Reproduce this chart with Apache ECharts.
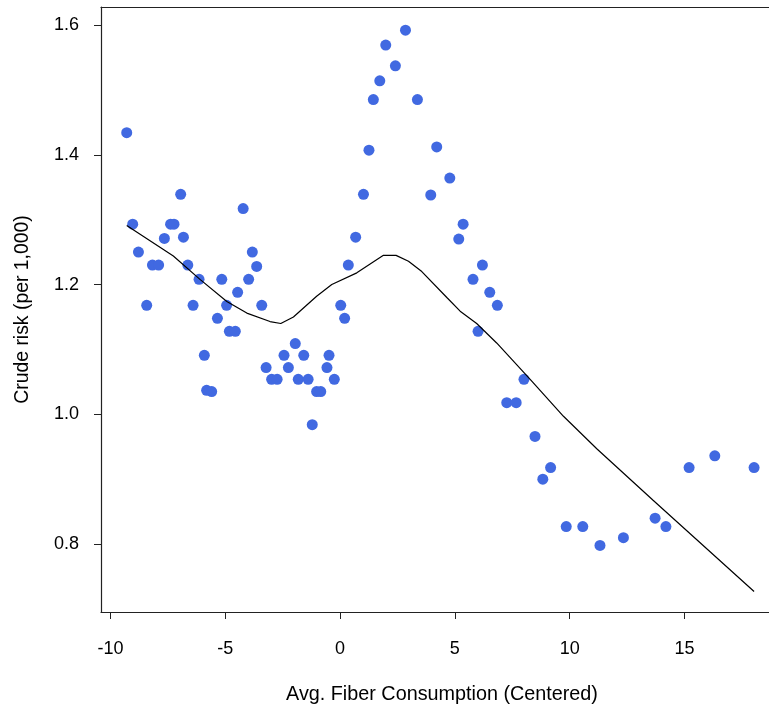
<!DOCTYPE html>
<html>
<head>
<meta charset="utf-8">
<script src="https://cdn.jsdelivr.net/npm/echarts@6/dist/echarts.min.js"></script>
<style>
html,body{margin:0;padding:0;background:#fff;}
#chart{width:769px;height:710px;}
</style>
</head>
<body>
<div id="chart"></div>
<script>
// Scatter points: fiber (centered) and crude risk (per 1,000)
const pointX = [
  -9.29, -9.03, -8.78, -8.42, -8.17, -7.90, -7.65, -7.38, -7.23, -6.94,
  -6.82, -6.63, -6.40, -6.14, -5.91, -5.81, -5.59, -5.34, -5.15, -4.94,
  -4.82, -4.56, -4.46, -4.22, -3.98, -3.82, -3.63, -3.41, -3.22, -2.98,
  -2.74, -2.44, -2.25, -1.95, -1.82, -1.58, -1.39, -1.21, -1.02, -0.84,
  -0.57, -0.48, -0.25, 0.03, 0.20, 0.36, 0.68, 1.02, 1.26, 1.45,
  1.73, 1.99, 2.41, 2.85, 3.37, 3.95, 4.21, 4.78, 5.17, 5.36,
  5.79, 6.01, 6.20, 6.52, 6.85, 7.26, 7.67, 8.01, 8.49, 8.83,
  9.17, 9.85, 10.57, 11.32, 12.34, 13.72, 14.19, 15.20, 16.32, 18.03
];
const pointY = [
  1.434, 1.293, 1.250, 1.168, 1.230, 1.230, 1.271, 1.293, 1.293, 1.339,
  1.273, 1.230, 1.168, 1.208, 1.091, 1.037, 1.035, 1.148, 1.208, 1.168,
  1.128, 1.128, 1.188, 1.317, 1.208, 1.250, 1.228, 1.168, 1.072, 1.054,
  1.054, 1.091, 1.072, 1.109, 1.054, 1.091, 1.054, 0.984, 1.035, 1.035,
  1.072, 1.091, 1.054, 1.168, 1.148, 1.230, 1.273, 1.339, 1.407, 1.485,
  1.514, 1.569, 1.537, 1.592, 1.485, 1.338, 1.412, 1.364, 1.270, 1.293,
  1.208, 1.128, 1.230, 1.188, 1.168, 1.018, 1.018, 1.054, 0.966, 0.900,
  0.918, 0.827, 0.827, 0.798, 0.810, 0.840, 0.827, 0.918, 0.936, 0.918
];
// Smoothed trend line
const lineX = [-9.29, -7.26, -6.10, -4.93, -4.06, -3.05, -2.58, -2.03, -1.02, -0.36, 0.73, 1.89, 2.44, 2.98, 3.56, 4.65, 5.23, 5.95, 6.82, 8.28, 9.73, 11.18, 13.62, 15.5, 18.03];
const lineY = [1.291, 1.244, 1.208, 1.174, 1.156, 1.143, 1.140, 1.150, 1.182, 1.200, 1.218, 1.245, 1.245, 1.236, 1.220, 1.180, 1.159, 1.140, 1.110, 1.054, 0.997, 0.947, 0.868, 0.808, 0.727];
const xTicks = [-10, -5, 0, 5, 10, 15];
const yTicks = [0.8, 1.0, 1.2, 1.4, 1.6];
const xTitle = 'Avg. Fiber Consumption (Centered)';
const yTitle = 'Crude risk (per 1,000)';

const scatterData = pointX.map((x, i) => [x, pointY[i]]);
const lineData = lineX.map((x, i) => [x, lineY[i]]);
const FONT = 'Liberation Sans, Arial, Helvetica, sans-serif';
const AXIS_COLOR = '#222';

const chart = echarts.init(document.getElementById('chart'), null, {renderer: 'canvas'});
chart.setOption({
  animation: false,
  backgroundColor: '#ffffff',
  grid: {left: 101, top: 7, width: 668, height: 606, show: false},
  xAxis: [{
    type: 'value', min: -10.41, max: 18.68, position: 'bottom',
    splitLine: {show: false},
    axisLine: {show: true, onZero: false, lineStyle: {color: AXIS_COLOR, width: 1.2}},
    axisTick: {show: true, inside: false, length: 7, customValues: xTicks, lineStyle: {color: AXIS_COLOR, width: 1}},
    axisLabel: {customValues: xTicks, margin: 28, fontFamily: FONT, fontSize: 18, color: '#000', formatter: v => String(v)},
    name: xTitle, nameLocation: 'middle', nameGap: 73,
    nameTextStyle: {fontFamily: FONT, fontSize: 19.8, color: '#000', padding: [0, 0, 0, 14]}
  }, {
    type: 'value', min: -10.41, max: 18.68, position: 'top',
    splitLine: {show: false},
    axisLine: {show: true, onZero: false, lineStyle: {color: AXIS_COLOR, width: 1.2}},
    axisTick: {show: false}, axisLabel: {show: false}
  }],
  yAxis: {
    type: 'value', min: 0.6954, max: 1.6277,
    splitLine: {show: false},
    axisLine: {show: true, onZero: false, lineStyle: {color: AXIS_COLOR, width: 1.2}},
    axisTick: {show: true, inside: false, length: 7, customValues: yTicks, lineStyle: {color: AXIS_COLOR, width: 1}},
    axisLabel: {customValues: yTicks, margin: 22, fontFamily: FONT, fontSize: 18, color: '#000', formatter: v => v.toFixed(1)},
    name: yTitle, nameLocation: 'middle', nameGap: 69, nameRotate: 90,
    nameTextStyle: {fontFamily: FONT, fontSize: 19.4, color: '#000'}
  },
  series: [
    {type: 'scatter', xAxisIndex: 0, data: scatterData, symbol: 'circle', symbolSize: 11, itemStyle: {color: '#4169E1', opacity: 1}, z: 2},
    {type: 'line', xAxisIndex: 0, data: lineData, showSymbol: false, symbol: 'none', lineStyle: {color: '#000', width: 1.2}, z: 3}
  ]
});
</script>
</body>
</html>
